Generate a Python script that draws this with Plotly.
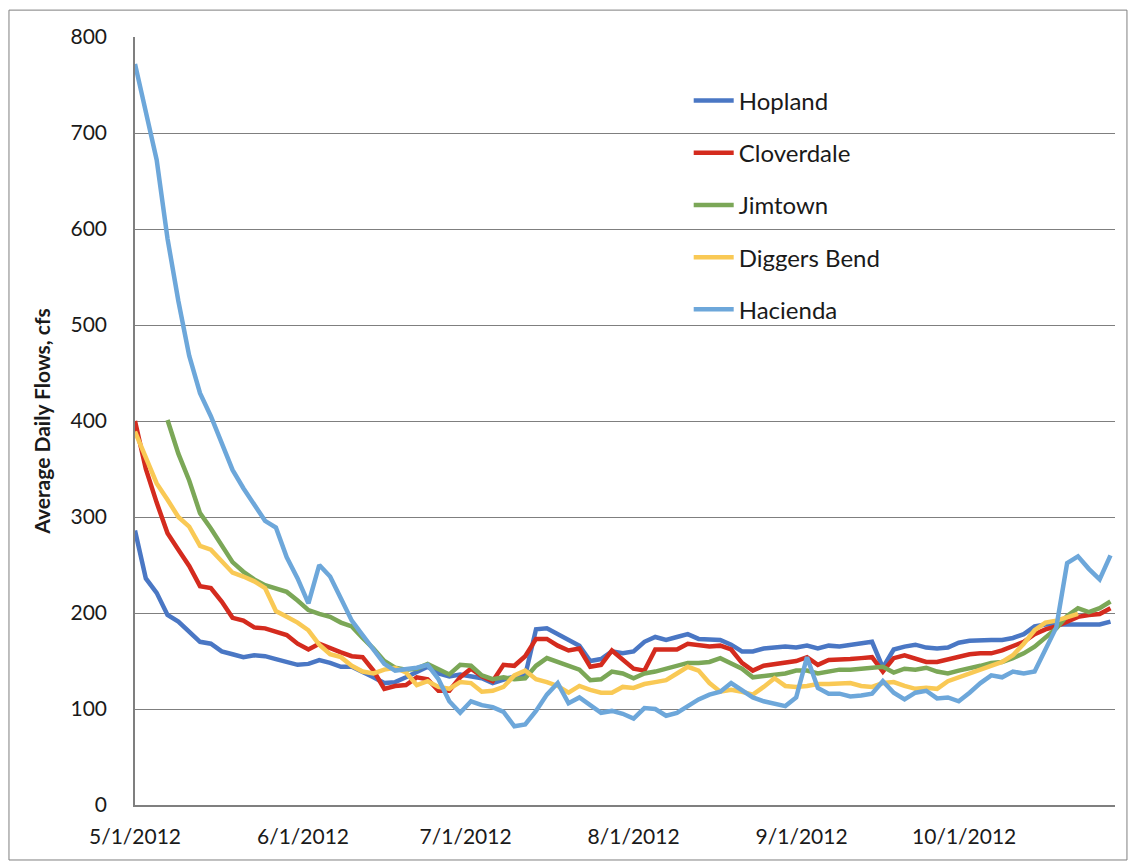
import pandas as pd
import plotly.graph_objects as go

# Sample dates: every 2 days from 5/1/2012
dates = pd.date_range("2012-05-01", periods=91, freq="2D")

hopland = [286, 236, 221, 198, 191, 180, 170, 168, 160, 157, 154, 156, 155, 152, 149, 146,
           147, 151, 148, 144, 144, 139, 133, 127, 128, 133, 138, 144, 137, 134, 136, 134,
           132, 127, 130, 134, 135, 183, 184, 178, 171, 166, 150, 152, 160, 158, 160, 170,
           175, 172, 175, 178, 173, 172, 172, 167, 160, 160, 163, 164, 165, 164, 166, 163,
           166, 165, 167, 168, 170, 143, 162, 165, 167, 164, 163, 164, 169, 171, 172, 172,
           172, 174, 178, 186, 188, 188, 189, 189, 188, 188, 191]

cloverdale = [400, 350, 315, 283, 266, 249, 228, 226, 212, 195, 192, 185, 184, 181, 177, 168,
              162, 168, 163, 159, 155, 154, 140, 121, 124, 125, 133, 131, 119, 119, 133, 142,
              134, 129, 146, 145, 155, 173, 173, 166, 161, 163, 144, 146, 161, 151, 142, 140,
              162, 162, 162, 168, 167, 165, 166, 162, 148, 140, 145, 147, 148, 150, 154, 146,
              151, 151, 152, 153, 154, 139, 153, 156, 153, 149, 149, 152, 154, 157, 158, 158,
              161, 165, 170, 178, 183, 186, 191, 196, 198, 199, 205]

jimtown = [None, None, None, 401, 366, 338, 304, 288, 270, 253, 243, 235, 229, 226, 222, 213,
           203, 199, 196, 190, 186, 174, 163, 150, 143, 141, 142, 147, 141, 136, 146, 145,
           135, 131, 133, 131, 132, 145, 153, 149, 145, 141, 130, 131, 139, 137, 132, 137,
           139, 142, 145, 148, 148, 149, 153, 148, 142, 133, 134, 135, 137, 140, 140, 137,
           139, 141, 141, 142, 143, 144, 138, 142, 141, 143, 139, 137, 140, 142, 145, 148,
           149, 153, 158, 165, 174, 184, 197, 205, 201, 205, 212]

diggers_bend = [389, 362, 335, 318, 300, 290, 270, 266, 254, 242, 238, 233, 226, 202, 196, 190,
                182, 167, 157, 154, 145, 139, 137, 141, 143, 138, 125, 129, 123, 121, 128, 127,
                118, 119, 123, 135, 140, 131, 128, 124, 117, 124, 120, 117, 117, 123, 122, 126,
                128, 130, 137, 144, 140, 127, 118, 120, 118, 115, 123, 132, 124, 123, 124, 126,
                126, 127, 127, 124, 123, 127, 128, 124, 121, 122, 121, 129, 133, 137, 140, 145,
                149, 156, 168, 182, 190, 192, 195, 199, None, None, None]

hacienda = [772, 722, 672, 590, 525, 468, 429, 405, 376, 349, 330, 312, 296, 289, 258, 236,
            210, 250, 238, 215, 192, 177, 162, 147, 140, 141, 143, 146, 131, 108, 96, 108,
            104, 102, 97, 82, 84, 98, 115, 127, 106, 112, 104, 96, 98, 95, 90, 101,
            100, 93, 96, 103, 110, 115, 118, 127, 119, 112, 108, 105, 103, 112, 154, 122,
            116, 116, 113, 114, 116, 129, 117, 110, 117, 119, 111, 112, 108, 117, 127, 135,
            133, 139, 137, 139, 162, 185, 252, 259, 246, 235, 260]

series_names = ["Hopland", "Cloverdale", "Jimtown", "Diggers Bend", "Hacienda"]
series_values = [hopland, cloverdale, jimtown, diggers_bend, hacienda]
series_colors = ["#4A77C4", "#D42B1E", "#7BA757", "#F9C955", "#6DA7DA"]

tick_dates = ["2012-05-01", "2012-06-01", "2012-07-01", "2012-08-01", "2012-09-01", "2012-10-01"]
tick_labels = ["5/1/2012", "6/1/2012", "7/1/2012", "8/1/2012", "9/1/2012", "10/1/2012"]

font_family = "Lato, 'Open Sans', sans-serif"

fig = go.Figure()
for i, (name, vals, col) in enumerate(zip(series_names, series_values, series_colors)):
    fig.add_trace(go.Scatter(
        x=dates, y=vals, name=name, mode="lines",
        line=dict(color=col, width=4.5),
        legendgroup=f"g{i}",
    ))

fig.update_layout(
    width=1130, height=860,
    margin=dict(l=127, r=23, t=29, b=63),
    paper_bgcolor="white", plot_bgcolor="white",
    font=dict(family=font_family, size=21, color="#1a1a1a"),
    showlegend=True,
    legend=dict(
        x=0.565, y=0.946, xanchor="left", yanchor="top",
        traceorder="grouped", tracegroupgap=18,
        bgcolor="rgba(0,0,0,0)", borderwidth=0,
        font=dict(family=font_family, size=24, color="#1a1a1a"),
        itemwidth=40,
    ),
    xaxis=dict(
        range=["2012-05-01", "2012-10-28 20:00"],
        tickvals=tick_dates, ticktext=tick_labels,
        showgrid=False, showline=True, linecolor="#7f7f7f", linewidth=1.5,
        ticks="", ticklabelstandoff=12,
        tickfont=dict(size=21),
    ),
    yaxis=dict(
        range=[0, 800], dtick=100, tick0=0,
        showgrid=True, gridcolor="#7f7f7f", gridwidth=1,
        showline=True, linecolor="#7f7f7f", linewidth=1.5,
        zeroline=False, ticks="", ticklabelstandoff=22,
        tickfont=dict(size=21),
        title=dict(text="<b>Average Daily Flows, cfs</b>", font=dict(size=21), standoff=14),
    ),
    shapes=[dict(type="rect", xref="paper", yref="paper",
                 x0=-0.1286, x1=1.0122, y0=-0.0716, y1=1.035,
                 line=dict(color="#7f7f7f", width=1), fillcolor="rgba(0,0,0,0)", layer="below")],
)

fig.write_html("out.html")
